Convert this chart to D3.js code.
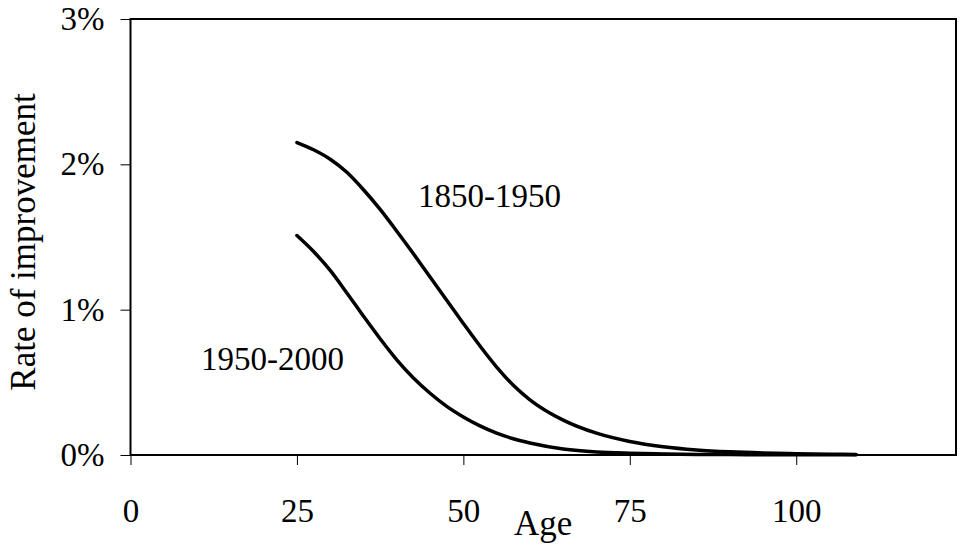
<!DOCTYPE html>
<html>
<head>
<meta charset="utf-8">
<script src="https://cdn.jsdelivr.net/npm/d3@7"></script>
<style>
  html, body { margin: 0; padding: 0; background: #fff; }
  svg { display: block; }
  text { font-family: "Liberation Serif", "Times New Roman", serif; fill: #000; }
</style>
</head>
<body>
<svg id="chart" width="961" height="548"></svg>
<script>
// ---- data ----
const seriesNames = ["1850-1950", "1950-2000"];
const ages = [25, 27.5, 30, 32.5, 35, 37.5, 40, 42.5, 45, 47.5, 50, 52.5, 55, 57.5, 60, 65, 70, 75, 80, 85, 90, 95, 100, 105, 109];
const rate1850 = [2.15, 2.10, 2.035, 1.945, 1.825, 1.69, 1.54, 1.385, 1.225, 1.065, 0.905, 0.75, 0.605, 0.48, 0.38, 0.24, 0.15, 0.093, 0.057, 0.035, 0.022, 0.014, 0.009, 0.006, 0.004];
const rate1950 = [1.51, 1.40, 1.27, 1.115, 0.955, 0.80, 0.655, 0.53, 0.425, 0.335, 0.262, 0.20, 0.15, 0.112, 0.083, 0.042, 0.021, 0.012, 0.007, 0.004, 0.003, 0.002, 0.0015, 0.001, 0.001];
const xTicks = [0, 25, 50, 75, 100];
const yTicks = [0, 1, 2, 3];
const xTitle = "Age";
const yTitle = "Rate of improvement";

// ---- layout ----
const pLeft = 130.5, pRight = 956, pTop = 19, pBottom = 455;
const svg = d3.select("#chart");
const x = d3.scaleLinear().domain([0, 124]).range([pLeft, pRight]);
const y = d3.scaleLinear().domain([0, 3]).range([pBottom, pTop]);

// frame
svg.append("rect")
  .attr("x", pLeft).attr("y", pTop)
  .attr("width", pRight - pLeft).attr("height", pBottom - pTop)
  .attr("fill", "none").attr("stroke", "#000").attr("stroke-width", 2);

// axes
const xAxis = svg.append("g").attr("transform", `translate(0,${pBottom})`)
  .call(d3.axisBottom(x).tickValues(xTicks).tickSize(10).tickPadding(34).tickFormat(d3.format("d")));
const yAxis = svg.append("g").attr("transform", `translate(${pLeft},0)`)
  .call(d3.axisLeft(y).tickValues(yTicks).tickSize(10).tickPadding(16).tickFormat(d => d + "%"));

[xAxis, yAxis].forEach(g => {
  g.attr("font-family", "'Liberation Serif', 'Times New Roman', serif");
  g.select(".domain").remove();
  g.selectAll(".tick line").attr("stroke", "#000").attr("stroke-width", 1);
  g.selectAll(".tick text").attr("font-size", 33)
    .attr("font-family", "'Liberation Serif', 'Times New Roman', serif").attr("fill", "#000");
});

// lines
const line = d3.line().x(d => x(d[0])).y(d => y(d[1])).curve(d3.curveMonotoneX);
[rate1850, rate1950].forEach(vals => {
  svg.append("path")
    .datum(ages.map((a, i) => [a, vals[i]]))
    .attr("d", line)
    .attr("fill", "none").attr("stroke", "#000").attr("stroke-width", 3.5)
    .attr("stroke-linecap", "round");
});

// series labels
svg.append("text").attr("x", 418).attr("y", 207).attr("font-size", 33).text(seriesNames[0]);
svg.append("text").attr("x", 201).attr("y", 370).attr("font-size", 33).text(seriesNames[1]);

// axis titles
svg.append("text").attr("x", (pLeft + pRight) / 2).attr("y", 535)
  .attr("text-anchor", "middle").attr("font-size", 35).text(xTitle);
svg.append("text").attr("transform", `translate(35,${(pTop + pBottom) / 2 + 5}) rotate(-90)`)
  .attr("text-anchor", "middle").attr("font-size", 35).text(yTitle);
</script>
</body>
</html>
